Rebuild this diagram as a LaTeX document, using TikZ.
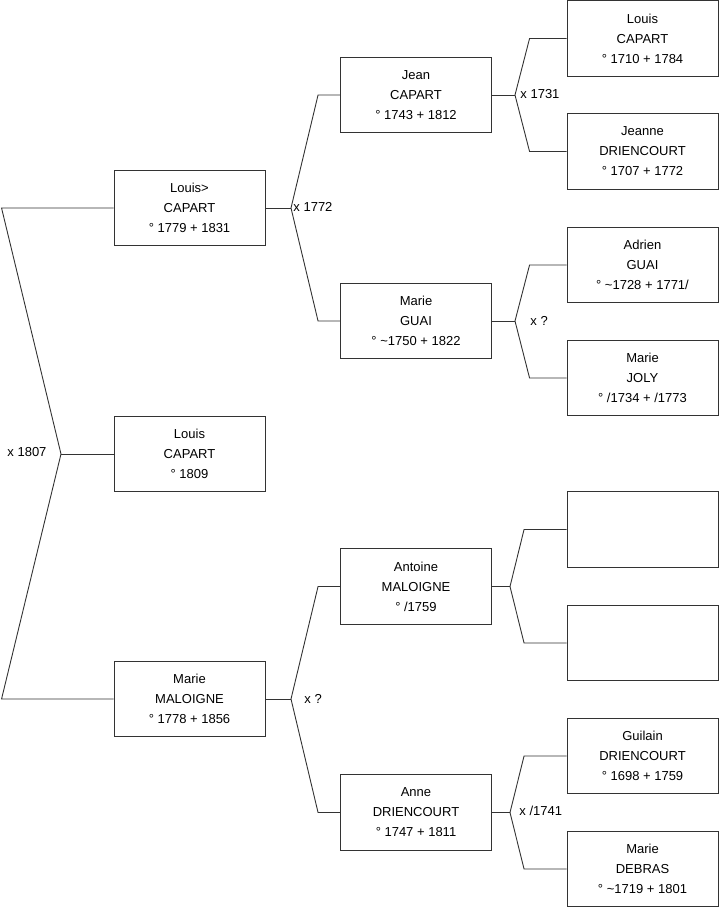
\documentclass[tikz,border=0pt]{standalone}
\usepackage{fontspec}
\setmainfont{Liberation Sans}
\begin{document}
\begin{tikzpicture}[x=1pt, y=-1pt, line width=0.9pt, draw=black!80,
    person/.style={draw, minimum width=151, minimum height=75.5, align=center, inner sep=0pt, font=\fontsize{13}{20}\selectfont},
    union/.style={anchor=west, inner sep=0pt, font=\fontsize{13}{16}\selectfont}]
    \useasboundingbox (0,0) rectangle (719,908);
    % Child and parents
    \node[person] (louisB) at (189.5,208) {Louis>\\CAPART\\° 1779 + 1831};
    \node[person] (child) at (189.5,454) {Louis\\CAPART\\° 1809};
    \node[person] (marieM) at (189.5,699) {Marie\\MALOIGNE\\° 1778 + 1856};
    % Grandparents
    \node[person] (jean) at (416,95) {Jean\\CAPART\\° 1743 + 1812};
    \node[person] (marieG) at (416,321) {Marie\\GUAI\\° \textasciitilde1750 + 1822};
    \node[person] (antoine) at (416,586.5) {Antoine\\MALOIGNE\\° /1759};
    \node[person] (anne) at (416,812.5) {Anne\\DRIENCOURT\\° 1747 + 1811};
    % Great-grandparents
    \node[person] (louisC) at (642.5,38.5) {Louis\\CAPART\\° 1710 + 1784};
    \node[person] (jeanne) at (642.5,151.5) {Jeanne\\DRIENCOURT\\° 1707 + 1772};
    \node[person] (adrien) at (642.5,265) {Adrien\\GUAI\\° \textasciitilde1728 + 1771/};
    \node[person] (joly) at (642.5,378) {Marie\\JOLY\\° /1734 + /1773};
    \node[person] (empty1) at (642.5,529.5) {};
    \node[person] (empty2) at (642.5,643) {};
    \node[person] (guilain) at (642.5,756) {Guilain\\DRIENCOURT\\° 1698 + 1759};
    \node[person] (debras) at (642.5,869) {Marie\\DEBRAS\\° \textasciitilde1719 + 1801};

    % Forks
    \coordinate (m0) at (61,454);
    \coordinate (m1) at (291,208);
    \coordinate (m2) at (291,699);
    \coordinate (m3) at (515,95);
    \coordinate (m4) at (515,321);
    \coordinate (m5) at (510,586.5);
    \coordinate (m6) at (510,812.5);

    \draw (child.west) -- (m0);
    \draw (louisB.west) -- ([xshift=-112]louisB.west) -- (m0) -- ([xshift=-112]marieM.west) -- (marieM.west);
    \draw (louisB.east) -- (m1);
    \draw (jean.west) -- ([xshift=-22]jean.west) -- (m1) -- ([xshift=-22]marieG.west) -- (marieG.west);
    \draw (marieM.east) -- (m2);
    \draw (antoine.west) -- ([xshift=-22]antoine.west) -- (m2) -- ([xshift=-22]anne.west) -- (anne.west);
    \draw (jean.east) -- (m3);
    \draw (louisC.west) -- ([xshift=-37]louisC.west) -- (m3) -- ([xshift=-37]jeanne.west) -- (jeanne.west);
    \draw (marieG.east) -- (m4);
    \draw (adrien.west) -- ([xshift=-37]adrien.west) -- (m4) -- ([xshift=-37]joly.west) -- (joly.west);
    \draw (antoine.east) -- (m5);
    \draw (empty1.west) -- ([xshift=-42.5]empty1.west) -- (m5) -- ([xshift=-42.5]empty2.west) -- (empty2.west);
    \draw (anne.east) -- (m6);
    \draw (guilain.west) -- ([xshift=-42.5]guilain.west) -- (m6) -- ([xshift=-42.5]debras.west) -- (debras.west);

    % Marriages
    \node[union] (x0) at (7,452) {x 1807};
    \node[union] (x1) at (293,207) {x 1772};
    \node[union] (x2) at (304,699) {x ?};
    \node[union] (x3) at (520,94) {x 1731};
    \node[union] (x4) at (530,321) {x ?};
    \node[union] (x6) at (519,811) {x /1741};
\end{tikzpicture}
\end{document}
